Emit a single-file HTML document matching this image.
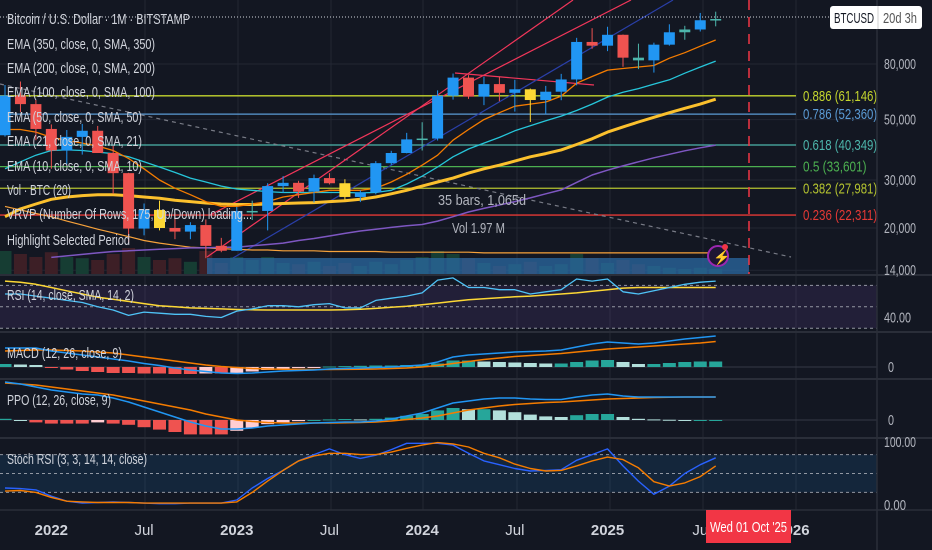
<!DOCTYPE html>
<html><head><meta charset="utf-8"><style>
html,body{margin:0;padding:0;background:#131722;}
svg{display:block;font-family:"Liberation Sans Narrow","Liberation Sans",sans-serif;}
</style></head><body>
<svg id="chart" width="932" height="550" viewBox="0 0 932 550" xmlns="http://www.w3.org/2000/svg">
<defs>
<clipPath id="cMain"><rect x="0" y="0" width="877" height="275"/></clipPath>
<clipPath id="cSub"><rect x="0" y="275" width="877" height="235"/></clipPath>
</defs>
<rect width="932" height="550" fill="#131722"/>
<g id="grid"></g>
<g id="main" clip-path="url(#cMain)"></g>
<g id="sub" clip-path="url(#cSub)"></g>
<g id="axes"></g>
<g id="legend" fill="#d1d4dc" font-size="15"></g>
</svg>
<script>
// ---- data (monthly, Oct 2021 .. Aug 2025) ----
const months=["Oct21","Nov21","Dec21","Jan22","Feb22","Mar22","Apr22","May22","Jun22","Jul22","Aug22","Sep22","Oct22","Nov22","Dec22","Jan23","Feb23","Mar23","Apr23","May23","Jun23","Jul23","Aug23","Sep23","Oct23","Nov23","Dec23","Jan24","Feb24","Mar24","Apr24","May24","Jun24","Jul24","Aug24","Sep24","Oct24","Nov24","Dec24","Jan25","Feb25","Mar25","Apr25","May25","Jun25","Jul25","Aug25"];
const opens=[43.8,61.3,57,46.2,38.5,43.2,45.5,37.7,31.8,19.9,23.3,20,19.4,20.5,17.2,16.5,23.1,23.1,28.5,29.3,27.2,30.5,29.2,26,27,34.6,37.7,42.3,42.6,61.2,71.3,60.7,67.5,62.7,64.6,59,63.3,70.2,96.4,93.4,102.4,84.4,82.5,94.2,104.6,107.1,115.8];
const highs=[67,69,59,48,45.8,48.2,47.4,40,31.9,24.6,25.2,22.8,21,21.5,18.4,23.9,25.2,29.2,31,29.8,31.4,31.8,30.2,27.5,35.2,38.4,44.7,48.9,64,73.8,72.8,71.9,71.9,70,65,66.5,73.6,99.8,108.3,109.6,102.7,95,95.8,111.9,110.5,123.2,124.5];
const lows=[43.3,53.3,42,33,34.3,37.2,37.7,26.7,17.6,18.8,19.6,18.2,18.2,15.5,16.3,16.5,21.4,19.6,26.9,25.8,24.8,28.9,25.3,24.9,26.6,34.1,37.6,38.5,41.9,59.2,59.6,56.5,58.4,53.5,49,52.5,58.9,66.8,91,89.2,78.2,76.6,74.4,93.4,98.2,105.3,110];
const closes=[61.3,57,46.2,38.5,43.2,45.5,37.7,31.8,19.9,23.3,20,19.4,20.5,17.2,16.5,23.1,23.1,28.5,29.3,27.2,30.5,29.2,26,27,34.6,37.7,42.3,42.6,61.2,71.3,60.7,67.5,62.7,64.6,59,63.3,70.2,96.4,93.4,102.4,84.4,82.5,94.2,104.6,107.1,115.8,117];
const highlighted=[10,22,34];
const volumes=[40,35,30,38,30,28,25,35,45,30,25,28,22,40,20,30,25,30,20,18,22,15,20,15,22,18,25,30,40,35,28,20,15,18,22,15,18,35,28,20,25,18,15,12,10,12,10];
const ema10=[46,46,45,43,42,41,40,38.5,36,33,30,28,26.5,25,24,24,24.5,25,26,26.5,27,27.5,27.5,27.5,28,29.5,31.5,34,37,42,46,50,53,56,57,58,61,68,72,76,77,78,79,84,88,93,98];
const ema21=[33,35,37,38.5,38.7,38.5,38,37.5,36.5,35,33.5,32,30.5,29.5,28.5,27.8,27.5,27.2,27,27,27,27,27,26.9,27,27.5,29,31,33.5,36.5,39,41,43,45.5,47.5,49.5,51.5,54,57,60.5,63,65,67.5,70,74,78,82];
const ema50=[22,23.5,24.5,25.5,26,26.3,26.5,26.5,26.3,26,25.7,25.3,25,24.7,24.5,24.4,24.4,24.5,24.6,24.7,24.8,25,25.2,25.5,26,26.7,27.5,28.5,29.5,30.5,31.8,33,34,35.2,36.5,37.5,38.7,40.5,42.5,45,47,49,51,53,55,57,59.4];
const ema100=[null,null,null,15.6,15.8,16,16.2,16.4,16.5,16.6,16.7,16.8,16.9,16.9,17,17,17.2,17.4,17.6,18,18.3,18.7,19.1,19.5,19.8,20.1,20.4,20.6,21.2,22,22.9,23.6,24.3,25,25.8,26.7,27.6,29.4,31.3,32.6,33.8,35,36.2,37.3,38.4,39.4,40.3];
const ema200=[24,23.3,22.6,22,21.2,20.5,19.8,19.2,18.6,18,17.6,17.3,17,16.9,16.8,16.7,16.6,16.6,16.5,16.5,16.5,16.4,16.4,16.4,16.4,16.3,16.3,16.3,16.3,16.3,16.3,16.2,16.2,16.2,16.2,16.2,16.2,16.2,16.2,16.2,16.2,16.2,16.2,16.2,16.2,16.2,16.2];
const fibLevels=["0.886","0.786","0.618","0.5","0.382","0.236"];
const fibPrices=[61146,52360,40349,33601,27981,22311];
const priceTicks=[80000,50000,30000,20000,14000];
const rsi=[62,62,60,58,56,54,50,47,42,45,44,43,43,41,40,46,48,51,51,50,52,53,49,49,56,58,60,63,75,77,68,68,66,66,62,64,66,76,74,76,64,62,65,68,71,73,74];
const rsiMa=[74,73,71,68,65,62,59,57,55,53,51,50,49,48.5,48,47.5,47.2,47,47,47,47,47,47.3,47.8,48.5,49.5,50.5,52,53.5,55,56.5,57.5,58.5,59.3,60,61,62,63,64.5,66,67.5,68,68,68,68,68,68];
const macd=[19,19,19,16,14,12,10,8,6,3.5,1.5,-1,-3,-4.5,-6,-6.5,-6,-5,-4,-3.5,-3,-2,-1.5,-1,-0.5,0,1,2,5,10,12,13,14,15,15.5,16,17,20,23,25,24,23,24,26,28,29.5,31];
const macdSignal=[16,16.5,17,17,16.5,16,15,14,12,10,8,6,4,2,0.5,-0.5,-1.5,-2,-2.2,-2.4,-2.5,-2.5,-2.4,-2.2,-2,-1.5,-1,0,1.5,3.5,5.5,7.5,9,10.5,11.5,12.5,13.5,15,16.5,18,19,20,21,22,23,24,25.5];
const ppo=[38,36,33,30,28,26,25,22,18,13,8,3,-2,-6,-9,-9,-8,-6,-5,-4,-3,-2.5,-2,-2,-1,1,4,7,12,17,19,21,22,22,21,20.5,20.5,23,25,26,24,23,23,23,23,23,23];
const ppoSignal=[37,36,35,33,31,29,27,25,22,19,16,13,10,6,3,0,-1.5,-2.5,-3,-3,-3,-3,-2.8,-2.5,-2,-1,0.5,2,4,7,10,12,14,15.5,16.5,17.5,18,19,20,21,21.5,22,22.5,22.8,23,23,23];
const stochK=[27,26,24,14,6,3,4,5,4,3,2,2,3,3,3,8,27,42,55,70,80,89,80,74,79,88,98,98,98,95,82,70,64,58,54,55,56,71,80,89,62,38,17,30,50,64,75];
const stochD=[22,23,20,12,6,5,4,4,4,3,3,3,3,3,3,5,20,38,55,70,78,82,82,80,80,84,90,95,99,97,92,82,75,65,58,54,55,62,70,76,72,59,37,30,35,45,62];
const timeLabels=["2022","Jul","2023","Jul","2024","Jul","2025","Ju","2026"];
const timeLabelIdx=[3,9,15,21,27,33,39,45,51];

// ---- scales ----
const NS="http://www.w3.org/2000/svg";
const xOf=i=>5+i*15.45;
const yP=p=>64+272.4*Math.log10(80/p);
const yPabs=p=>yP(p/1000);
const yR=v=>317.5-(v-40)*1.07;
const yM=v=>367-v;
const yPP=v=>420-v;
const yS=v=>505-v*0.63;
function mk(tag,attrs,parent){const e=document.createElementNS(NS,tag);for(const k in attrs)e.setAttribute(k,attrs[k]);parent.appendChild(e);return e;}
const grid=document.getElementById('grid'),main=document.getElementById('main'),sub=document.getElementById('sub'),axes=document.getElementById('axes'),legend=document.getElementById('legend');

[145,238,331,423,517,610,703,796].forEach(x=>{const l=mk('line',{x1:x,x2:x,y1:0,y2:510,stroke:'#232733','stroke-width':1},grid);

});
priceTicks.forEach(p=>{const l=mk('line',{x1:0,x2:877,y1:yPabs(p),y2:yPabs(p),stroke:'#232733'},grid);

});

volumes.forEach((v,i)=>{const up=closes[i]>=opens[i];const r=mk('rect',{x:xOf(i)-6.5,y:275-v*0.6,width:13,height:v*0.6,fill:up?'#163d33':'#3d1f26'},main);

});
const hb=mk('rect',{x:207,y:258,width:542,height:17,fill:'#2b6aa3','fill-opacity':0.75},main);



const fibColors=['#c5d62e','#5b9bd5','#4db6ac','#4caf50','#b4c330','#e53935'];
fibPrices.forEach((p,k)=>{const y=yPabs(p);
const l=mk('line',{x1:0,x2:796,y1:y,y2:y,stroke:fibColors[k],'stroke-width':1.3},main);


const txt=fibLevels[k]+' ('+p.toLocaleString('en-US')+')';
const t=mk('text',{x:803,y:y+5,fill:fibColors[k],'font-size':15,textLength:txt.length*5.3,lengthAdjust:'spacingAndGlyphs'},main);t.textContent=txt;

});

[[0,84,791,257,'#787b86','4,4'],[207,257,573,0,'#f2365a',''],[210,215,631,0,'#f2365a',''],[455,73,594,85,'#f2365a',''],[233,258,673,0,'#2a3fa8','']].forEach(d=>{
const l=mk('line',{x1:d[0],y1:d[1],x2:d[2],y2:d[3],stroke:d[4],'stroke-width':1.2,'stroke-dasharray':d[5]},main);

});
const lp=mk('line',{x1:0,x2:830,y1:17,y2:17,stroke:'#d1d4dc','stroke-dasharray':'1,2'},main);



function poly(arr,yf,color,w,name,parent){let d='';arr.forEach((v,i)=>{if(v===null)return;d+=(d?'L':'M')+xOf(i).toFixed(1)+','+yf(v).toFixed(1);});
const p=mk('path',{d:d,fill:'none',stroke:color,'stroke-width':w,'stroke-linejoin':'round'},parent);

}
poly(ema200,yP,'#f7a23b',1.2,'ema-200-line',main);
poly(ema100,yP,'#7e57c2',1.5,'ema-100-line',main);
poly(ema50,yP,'#fbc02d',3,'ema-50-line',main);
poly(ema21,yP,'#26c6da',1.3,'ema-21-line',main);
poly(ema10,yP,'#f57c00',1.3,'ema-10-line',main);

months.forEach((m,i)=>{const o=opens[i],c=closes[i],x=xOf(i);
let col=c>=o?'#2196f3':'#ef5350';
if(Math.abs(c-o)/o<0.025)col='#4db6ac';
if(highlighted.includes(i))col='#fdd835';
const w=mk('line',{x1:x,x2:x,y1:yP(highs[i]),y2:yP(lows[i]),stroke:col,'stroke-width':1},main);


const top=yP(Math.max(o,c)),bot=yP(Math.min(o,c));
const b=mk('rect',{x:x-5.5,y:top,width:11,height:Math.max(1.5,bot-top),fill:col},main);

});

const vl=mk('line',{x1:749,x2:749,y1:0,y2:275,stroke:'#f23645','stroke-width':1.5,'stroke-dasharray':'10,7'},main);


const ic=mk('circle',{cx:718,cy:256,r:10,fill:'#1e1633',stroke:'#9c27b0','stroke-width':2},main);


const it=mk('text',{x:713,y:262,fill:'#c77dff','font-size':14},main);it.textContent='⚡';


const id=mk('circle',{cx:725,cy:247,r:3,fill:'#f23645'},main);


const mt1=mk('text',{x:438,y:205,fill:'#b2b5be','font-size':15,textLength:88,lengthAdjust:'spacingAndGlyphs'},main);mt1.textContent='35 bars, 1,065d';


const mt2=mk('text',{x:452,y:233,fill:'#b2b5be','font-size':15,textLength:53,lengthAdjust:'spacingAndGlyphs'},main);mt2.textContent='Vol 1.97 M';



function band(y1,y2,fill,name){const r=mk('rect',{x:0,y:y1,width:877,height:y2-y1,fill:fill},sub);

}
function dotted(y,name){const l=mk('line',{x1:0,x2:877,y1:y,y2:y,stroke:'#b2b5be','stroke-dasharray':'3,3','stroke-opacity':0.8},sub);

}
band(yR(70),yR(30),'rgba(126,87,194,0.14)','rsi-background');
dotted(yR(70),'rsi-upper-band');dotted(yR(50),'rsi-middle-band');dotted(yR(30),'rsi-lower-band');
poly(rsiMa,yR,'#fdd835',1.5,'rsi-ma-line',sub);
poly(rsi,yR,'#4fc3f7',1.3,'rsi-line',sub);

function hist(a,b,yf,scale,name){a.forEach((v,i)=>{const h=(v-b[i])*scale;const prev=i>0?(a[i-1]-b[i-1])*scale:h;
let col=h>=0?(h>=prev?'#26a69a':'#b2dfdb'):(h<=prev?'#ef5350':'#ffcdd2');
const y0=yf(0);const r=mk('rect',{x:xOf(i)-6.5,y:Math.min(y0,y0-h),width:13,height:Math.max(1,Math.abs(h)),fill:col},sub);

});}
const z1=mk('line',{x1:0,x2:877,y1:yM(0),y2:yM(0),stroke:'#363a45'},sub);


hist(macd,macdSignal,yM,1,'macd-histogram-bar');
poly(macdSignal,yM,'#f57c00',1.5,'macd-signal-line',sub);
poly(macd,yM,'#2196f3',1.5,'macd-line',sub);

const z2=mk('line',{x1:0,x2:877,y1:yPP(0),y2:yPP(0),stroke:'#363a45'},sub);


hist(ppo,ppoSignal,yPP,1.2,'ppo-histogram-bar');
poly(ppoSignal,yPP,'#f57c00',1.5,'ppo-signal-line',sub);
poly(ppo,yPP,'#2196f3',1.5,'ppo-line',sub);

band(yS(80),yS(20),'rgba(33,150,243,0.12)','stoch-background');
dotted(yS(80),'stoch-upper-band');dotted(yS(50),'stoch-middle-band');dotted(yS(20),'stoch-lower-band');
poly(stochK,yS,'#2962ff',1.4,'stoch-k-line',sub);
poly(stochD,yS,'#f57c00',1.4,'stoch-d-line',sub);

[275,332,379,438].forEach(y=>{const l=mk('line',{x1:0,x2:932,y1:y,y2:y,stroke:'#2a2e39','stroke-width':2},axes);

});
const ax=mk('line',{x1:877,x2:877,y1:0,y2:550,stroke:'#2a2e39','stroke-width':1.5},axes);


const tx=mk('line',{x1:0,x2:932,y1:510,y2:510,stroke:'#2a2e39','stroke-width':1.5},axes);



priceTicks.forEach(p=>{const t=mk('text',{x:884,y:yPabs(p)+5,fill:'#b2b5be','font-size':15,textLength:32,lengthAdjust:'spacingAndGlyphs'},axes);t.textContent=p.toLocaleString('en-US');

});
[['40.00',884,yR(40)+5,27],['0',888,yM(0)+5,6],['0',888,yPP(0)+5,6],['100.00',884,yS(100)+5,32],['0.00',884,yS(0)+5,22]].forEach(d=>{
const t=mk('text',{x:d[1],y:d[2],fill:'#b2b5be','font-size':15,textLength:d[3],lengthAdjust:'spacingAndGlyphs'},axes);t.textContent=d[0];

});
timeLabels.forEach((s,k)=>{const t=mk('text',{x:xOf(timeLabelIdx[k]),y:535,fill:'#d1d4dc','font-size':15,'text-anchor':'middle','font-weight':/^\d/.test(s)?'bold':'normal'},axes);t.textContent=s;

});
const db=mk('rect',{x:706,y:510,width:85,height:33,fill:'#f23645'},axes);


const dt=mk('text',{x:710,y:532,fill:'#ffffff','font-size':15,textLength:77,lengthAdjust:'spacingAndGlyphs'},axes);dt.textContent="Wed 01 Oct '25";



const sb=mk('rect',{x:830,y:6,width:92,height:23,rx:3,fill:'#ffffff'},axes);


const sd=mk('line',{x1:878,x2:878,y1:6,y2:29,stroke:'#d0d0d0'},axes);


const st=mk('text',{x:834,y:23,fill:'#131722','font-size':15,textLength:40,lengthAdjust:'spacingAndGlyphs'},axes);st.textContent='BTCUSD';


const cd=mk('text',{x:883,y:23,fill:'#555','font-size':15,textLength:34,lengthAdjust:'spacingAndGlyphs'},axes);cd.textContent='20d 3h';



const legendRows=[["Bitcoin / U.S. Dollar · 1M · BITSTAMP",24,183],["EMA (350, close, 0, SMA, 350)",49,148],["EMA (200, close, 0, SMA, 200)",73,148],["EMA (100, close, 0, SMA, 100)",97,148],["EMA (50, close, 0, SMA, 50)",122,135],["EMA (21, close, 0, SMA, 21)",146,135],["EMA (10, close, 0, SMA, 10)",171,135],["Vol · BTC (20)",195,64],["VRVP (Number Of Rows, 175, Up/Down) loading...",219,245],["Highlight Selected Period",245,123],["RSI (14, close, SMA, 14, 2)",300,127],["MACD (12, 26, close, 9)",358,115],["PPO (12, 26, close, 9)",405,104],["Stoch RSI (3, 3, 14, 14, close)",464,140]];
legendRows.forEach(r=>{const t=mk('text',{x:7,y:r[1],textLength:r[2],lengthAdjust:'spacingAndGlyphs'},legend);t.textContent=r[0];

});
</script>
</body></html>
